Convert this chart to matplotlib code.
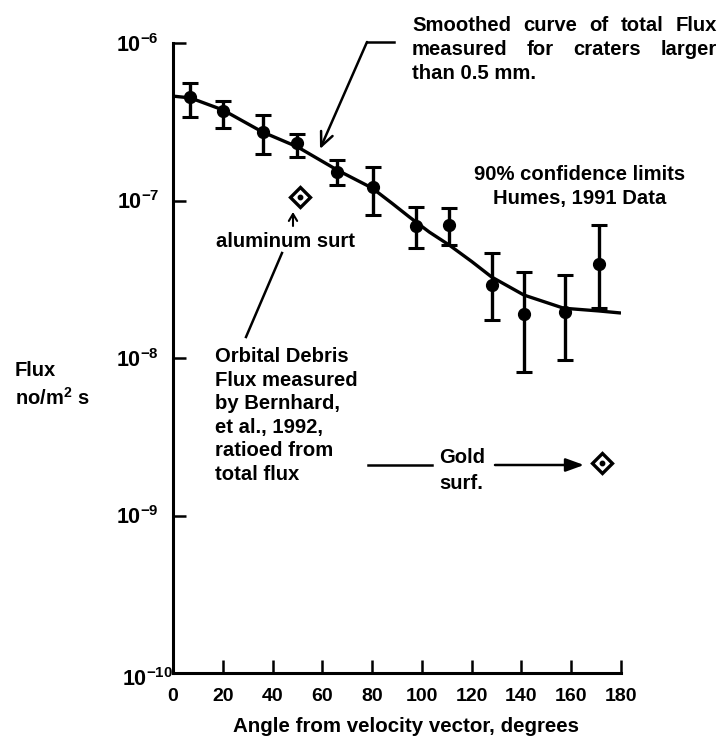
import matplotlib
matplotlib.use('Agg')
import matplotlib.pyplot as plt
from matplotlib.lines import Line2D
from matplotlib.ticker import NullLocator
from matplotlib.transforms import ScaledTranslation

plt.rcParams['font.family'] = ['Liberation Sans', 'DejaVu Sans']
plt.rcParams['font.weight'] = 'bold'
plt.rcParams['axes.labelweight'] = 'bold'
plt.rcParams['mathtext.fontset'] = 'custom'
plt.rcParams['mathtext.rm'] = 'Liberation Sans:bold'
plt.rcParams['mathtext.it'] = 'Liberation Sans:bold:italic'
plt.rcParams['mathtext.bf'] = 'Liberation Sans:bold'

# ---------------- data ----------------
# Humes 1991 data, 90% confidence limits
angle_pts = [7, 20, 36, 50, 66, 80.5, 97.5, 111, 128, 141, 157.5, 171]
flux_pts = [4.54e-7, 3.70e-7, 2.72e-7, 2.32e-7, 1.52e-7, 1.22e-7,
            6.89e-8, 6.98e-8, 2.90e-8, 1.90e-8, 1.96e-8, 3.95e-8]
flux_low = [3.39e-7, 2.88e-7, 1.97e-7, 1.89e-7, 1.25e-7, 8.09e-8,
            4.99e-8, 5.21e-8, 1.74e-8, 8.15e-9, 9.71e-9, 2.07e-8]
flux_high = [5.57e-7, 4.28e-7, 3.49e-7, 2.64e-7, 1.81e-7, 1.63e-7,
             9.10e-8, 8.96e-8, 4.64e-8, 3.52e-8, 3.37e-8, 6.98e-8]

# smoothed curve of total flux
curve_angle = [0, 7, 20, 36, 50, 66, 80, 88, 95, 103, 111, 120, 128, 141, 157, 171, 180]
curve_flux = [4.60e-7, 4.48e-7, 3.76e-7, 2.72e-7, 2.19e-7, 1.56e-7, 1.20e-7,
              9.6e-8, 7.85e-8, 6.3e-8, 5.21e-8, 4.1e-8, 3.27e-8, 2.51e-8,
              2.07e-8, 1.99e-8, 1.93e-8]

# orbital debris flux (Bernhard et al., 1992)
debris_angle = [51, 172.5]
debris_flux = [1.06e-7, 2.16e-9]

x_ticks = [0, 20, 40, 60, 80, 100, 120, 140, 160, 180]
x_tick_labels = ['0', '20', '40', '60', '80', '100', '120', '140', '160', '180']
y_ticks = [1e-10, 1e-9, 1e-8, 1e-7, 1e-6]
y_tick_labels = ['$10^{-10}$', '$10^{-9}$', '$10^{-8}$', '$10^{-7}$', '$10^{-6}$']

# ---------------- figure ----------------
W, H = 721, 738
fig = plt.figure(figsize=(W / 100, H / 100), dpi=100)
fig.patch.set_facecolor('white')
ax = fig.add_axes([173 / W, 1 - 673 / H, 448 / W, 630 / H])


def fp(px, py):
    return (px / W, 1 - py / H)


ax.set_yscale('log')
ax.set_xlim(0, 180)
ax.set_ylim(1e-10, 1e-6)
ax.set_xticks(x_ticks)
ax.set_xticklabels(x_tick_labels)
ax.set_yticks(y_ticks)
ax.set_yticklabels(y_tick_labels)
ax.yaxis.set_minor_locator(NullLocator())
ax.xaxis.set_minor_locator(NullLocator())
ax.tick_params(axis='both', direction='in', length=9.5, width=1.8, color='k')
ax.tick_params(axis='x', labelsize=14, pad=11)
ax.tick_params(axis='y', labelsize=15.5, pad=10)
for s in ['top', 'right']:
    ax.spines[s].set_visible(False)
for s in ['left', 'bottom']:
    ax.spines[s].set_linewidth(2.2)

# curve
ax.plot(curve_angle, curve_flux, color='k', lw=2.4, solid_capstyle='butt', zorder=3)

# error bars
yerr = [[c - l for c, l in zip(flux_pts, flux_low)],
        [h - c for c, h in zip(flux_pts, flux_high)]]
ax.errorbar(angle_pts, flux_pts, yerr=yerr, fmt='o', color='k', ms=8.5,
            elinewidth=2.4, capsize=5.5, capthick=2.2, zorder=4)

# debris diamonds
ax.plot(debris_angle, debris_flux, linestyle='none', marker='D', ms=10,
        mfc='white', mec='k', mew=2.4, zorder=5)
ax.plot(debris_angle, debris_flux, linestyle='none', marker='o', ms=3.2,
        mfc='k', mec='k', zorder=6)

ax.set_xlabel('Angle from velocity vector, degrees', fontsize=14.8,
              fontweight='bold', va='baseline')
ax.xaxis.set_label_coords((406 - 173) / 448, (673 - 732) / 630)

# shift 10^-10 label toward the axis
off = ScaledTranslation(10 / 72, -3 / 72, fig.dpi_scale_trans)
lab0 = ax.get_yticklabels()[0]
lab0.set_transform(lab0.get_transform() + off)

# y-axis title
fig.text(*fp(15, 376), 'Flux', fontsize=14.5, ha='left', va='baseline')
fig.text(*fp(15, 405), 'no/m$^2$ s', fontsize=14.5, ha='left', va='baseline')

FS = 14.6


def justified(words, x0, x1, yb):
    texts = [fig.text(0, 0, w, fontsize=FS, ha='left', va='baseline') for w in words]
    r = fig.canvas.get_renderer()
    widths = [t.get_window_extent(r).width for t in texts]
    gap = (x1 - x0 - sum(widths)) / (len(words) - 1)
    x = x0
    for t, w in zip(texts, widths):
        t.set_position(fp(x, yb))
        x += w + gap


justified(['Smoothed', 'curve', 'of', 'total', 'Flux'], 412, 717, 31)
justified(['measured', 'for', 'craters', 'larger'], 412, 717, 55)
fig.text(*fp(412, 79), 'than 0.5 mm.', fontsize=FS, ha='left', va='baseline')

# leader arrow to the curve
fig.add_artist(Line2D([367 / W, 394 / W], [1 - 42 / H, 1 - 42 / H],
                      transform=fig.transFigure, lw=1.8, color='k'))
ax.annotate('', xy=fp(320, 149), xycoords='figure fraction',
            xytext=fp(367, 42), textcoords='figure fraction',
            arrowprops=dict(arrowstyle='->,head_length=1.0,head_width=0.45',
                            lw=1.8, color='k', shrinkA=0, shrinkB=0))

fig.text(*fp(580, 180), '90% confidence limits', fontsize=FS, ha='center', va='baseline')
fig.text(*fp(580, 204), 'Humes, 1991 Data', fontsize=FS, ha='center', va='baseline')

# aluminum label
fig.text(*fp(286, 247), 'aluminum surt', fontsize=FS, ha='center', va='baseline')
ax.annotate('', xy=fp(293, 212), xycoords='figure fraction',
            xytext=fp(293, 226), textcoords='figure fraction',
            arrowprops=dict(arrowstyle='->,head_length=0.5,head_width=0.3',
                            lw=1.5, color='k', shrinkA=0, shrinkB=0))

# orbital debris text and leader
fig.add_artist(Line2D([246 / W, 282 / W], [1 - 337 / H, 1 - 253 / H],
                      transform=fig.transFigure, lw=1.8, color='k'))
od_lines = ['Orbital Debris', 'Flux measured', 'by Bernhard,',
            'et al., 1992,', 'ratioed from', 'total flux']
for i, s in enumerate(od_lines):
    fig.text(*fp(215, 362 + 23.6 * i), s, fontsize=FS, ha='left', va='baseline')

# gold
fig.add_artist(Line2D([368 / W, 432 / W], [1 - 465 / H, 1 - 465 / H],
                      transform=fig.transFigure, lw=1.8, color='k'))
fig.text(*fp(439, 463), 'Gold', fontsize=FS, ha='left', va='baseline')
fig.text(*fp(439, 489), 'surf.', fontsize=FS, ha='left', va='baseline')
ax.annotate('', xy=fp(584, 465), xycoords='figure fraction',
            xytext=fp(495, 465), textcoords='figure fraction',
            arrowprops=dict(arrowstyle='-|>,head_length=1.1,head_width=0.4',
                            lw=1.8, color='k', fc='k', shrinkA=0, shrinkB=0))

fig.savefig('out.png', dpi=100, facecolor='white')
